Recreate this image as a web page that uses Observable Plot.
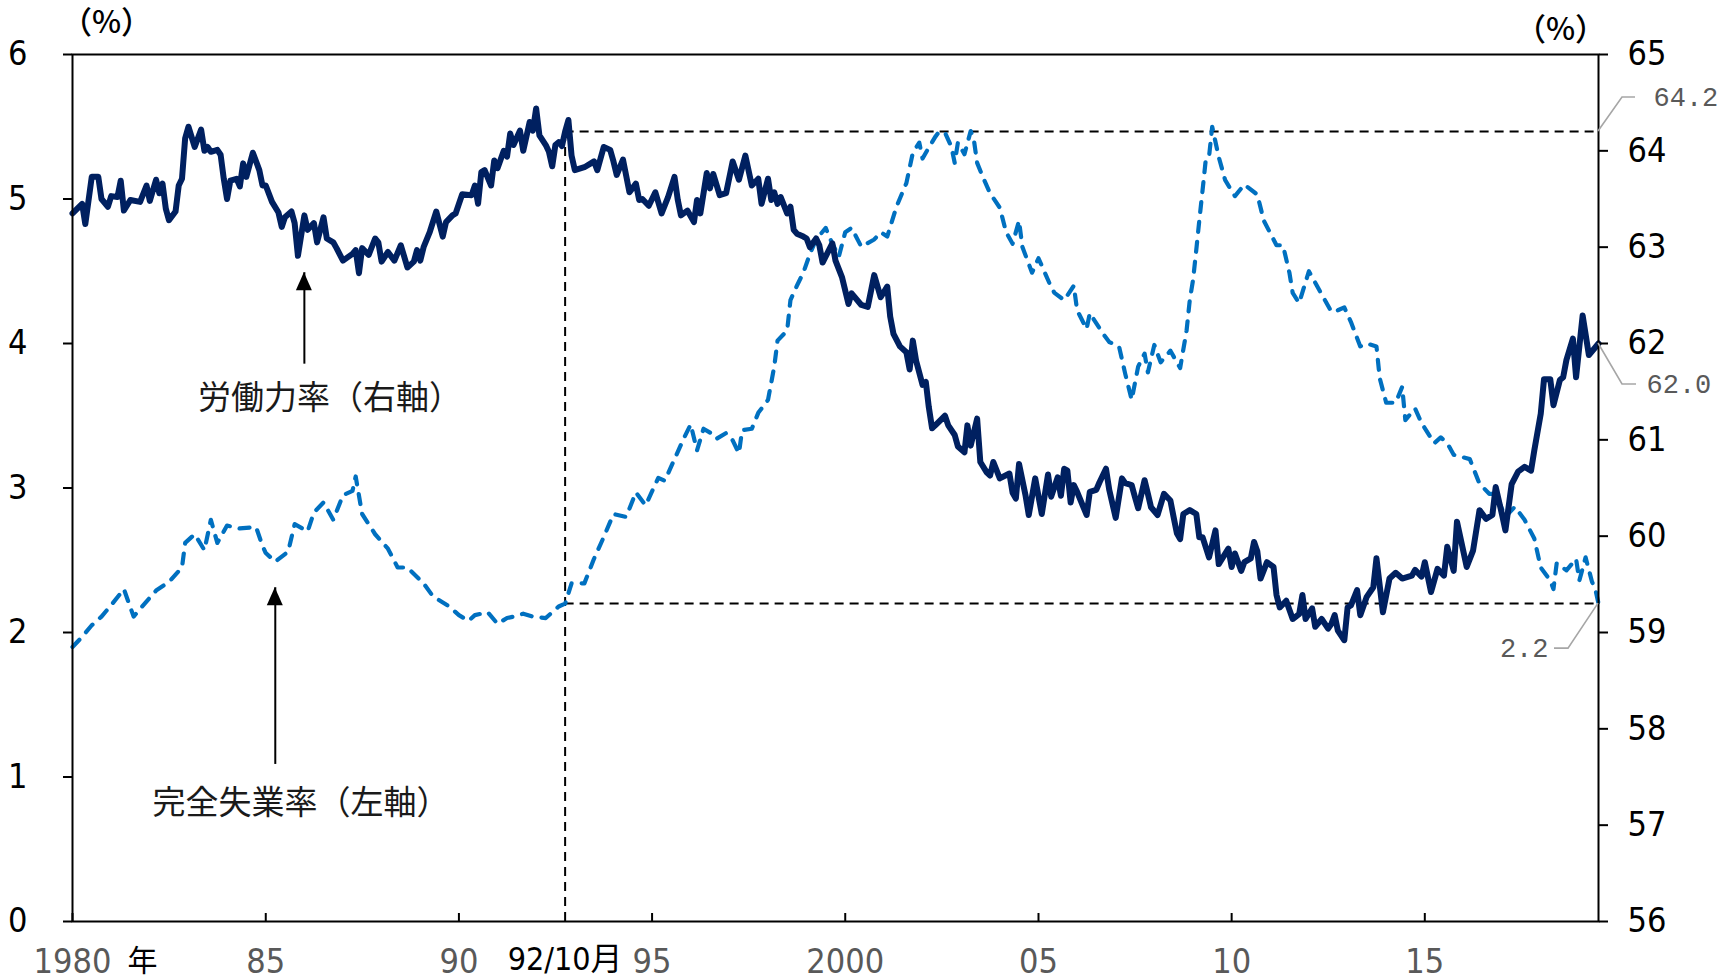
<!DOCTYPE html>
<html>
<head>
<meta charset="utf-8">
<script src="https://cdn.jsdelivr.net/npm/d3@7"></script>
<script src="https://cdn.jsdelivr.net/npm/@observablehq/plot@0.6"></script>
<style>
  html, body { margin: 0; padding: 0; background: #fff; }
</style>
</head>
<body>
<div id="chart"></div>
<script>
// ---------- data ----------
// 労働力率 (right axis, %)
const laborForceRate = [
["1980-01",63.35],["1980-04",63.45],["1980-05",63.24],["1980-07",63.73],["1980-09",63.73],["1980-10",63.50],["1980-12",63.42],
["1981-01",63.53],["1981-03",63.52],["1981-04",63.69],["1981-05",63.38],["1981-07",63.49],["1981-10",63.47],["1981-12",63.64],
["1982-01",63.48],["1982-03",63.70],["1982-04",63.56],["1982-05",63.66],["1982-06",63.40],["1982-07",63.28],["1982-09",63.37],["1982-10",63.64],["1982-11",63.71],["1982-12",64.13],
["1983-01",64.25],["1983-03",64.04],["1983-05",64.22],["1983-06",64.00],["1983-07",64.04],["1983-08",63.99],["1983-10",64.01],["1983-11",63.96],["1983-12",63.71],
["1984-01",63.50],["1984-02",63.69],["1984-04",63.71],["1984-05",63.63],["1984-06",63.87],["1984-07",63.73],["1984-09",63.98],["1984-11",63.80],["1984-12",63.64],
["1985-01",63.64],["1985-03",63.47],["1985-05",63.36],["1985-06",63.21],["1985-07",63.31],["1985-09",63.37],["1985-10",63.25],["1985-11",62.91],
["1986-01",63.33],["1986-02",63.18],["1986-04",63.25],["1986-05",63.05],["1986-07",63.31],["1986-08",63.09],["1986-10",63.05],["1986-11",62.99],
["1987-01",62.86],["1987-04",62.93],["1987-05",62.97],["1987-06",62.73],["1987-07",62.99],["1987-09",62.92],["1987-11",63.09],["1987-12",63.05],
["1988-01",62.85],["1988-03",62.95],["1988-05",62.86],["1988-07",63.02],["1988-09",62.79],["1988-11",62.85],["1988-12",62.97],
["1989-01",62.86],["1989-02",63.00],["1989-04",63.16],["1989-06",63.37],["1989-08",63.11],["1989-09",63.26],["1989-11",63.33],["1989-12",63.35],
["1990-02",63.55],["1990-05",63.54],["1990-06",63.64],["1990-07",63.45],["1990-08",63.78],["1990-09",63.80],["1990-11",63.64],["1990-12",63.90],
["1991-01",63.82],["1991-03",64.00],["1991-04",63.94],["1991-05",64.18],["1991-06",64.06],["1991-08",64.21],["1991-09",64.00],["1991-11",64.30],["1991-12",64.21],
["1992-01",64.44],["1992-02",64.16],["1992-04",64.06],["1992-05",63.99],["1992-06",63.84],["1992-07",64.06],["1992-08",64.09],["1992-09",64.05],["1992-10",64.20],["1992-11",64.32],["1992-12",63.95],
["1993-01",63.80],["1993-04",63.83],["1993-06",63.87],["1993-07",63.89],["1993-08",63.80],["1993-10",64.04],["1993-12",64.01],
["1994-01",63.89],["1994-02",63.75],["1994-04",63.91],["1994-06",63.57],["1994-08",63.66],["1994-09",63.49],["1994-10",63.50],["1994-12",63.43],
["1995-02",63.57],["1995-04",63.35],["1995-06",63.52],["1995-08",63.73],["1995-09",63.49],["1995-10",63.33],["1995-12",63.38],
["1996-02",63.26],["1996-03",63.49],["1996-04",63.35],["1996-06",63.77],["1996-07",63.61],["1996-08",63.76],["1996-10",63.54],["1996-12",63.56],
["1997-02",63.89],["1997-04",63.70],["1997-06",63.95],["1997-08",63.64],["1997-10",63.71],["1997-11",63.45],
["1998-01",63.71],["1998-02",63.49],["1998-03",63.57],["1998-04",63.45],["1998-05",63.52],["1998-07",63.35],["1998-08",63.42],["1998-09",63.18],["1998-10",63.14],["1998-12",63.11],
["1999-01",63.09],["1999-02",63.00],["1999-04",63.09],["1999-05",63.02],["1999-06",62.84],["1999-09",63.04],["1999-10",62.86],["1999-12",62.69],
["2000-02",62.41],["2000-03",62.52],["2000-06",62.40],["2000-08",62.38],["2000-10",62.71],["2000-12",62.48],
["2001-02",62.59],["2001-03",62.28],["2001-04",62.10],["2001-06",61.97],["2001-08",61.91],["2001-09",61.73],["2001-10",62.03],["2001-11",61.82],
["2002-01",61.57],["2002-02",61.60],["2002-03",61.34],["2002-04",61.12],["2002-05",61.15],["2002-08",61.25],["2002-09",61.15],["2002-11",61.05],["2002-12",60.93],
["2003-02",60.87],["2003-03",61.15],["2003-04",60.94],["2003-06",61.22],["2003-07",60.77],["2003-09",60.66],["2003-10",60.63],["2003-11",60.77],
["2004-01",60.60],["2004-04",60.65],["2004-05",60.45],["2004-06",60.39],["2004-07",60.75],["2004-09",60.42],["2004-10",60.22],["2004-12",60.60],
["2005-02",60.23],["2005-04",60.64],["2005-05",60.41],["2005-07",60.61],["2005-08",60.42],["2005-09",60.70],["2005-10",60.68],["2005-11",60.35],["2005-12",60.53],
["2006-01",60.46],["2006-04",60.22],["2006-05",60.46],["2006-07",60.48],["2006-08",60.56],["2006-10",60.70],["2006-11",60.48],
["2007-01",60.19],["2007-03",60.60],["2007-04",60.55],["2007-06",60.53],["2007-07",60.41],["2007-08",60.29],["2007-10",60.58],["2007-11",60.44],["2007-12",60.30],
["2008-02",60.22],["2008-04",60.44],["2008-06",60.37],["2008-07",60.20],["2008-08",60.03],["2008-09",59.97],["2008-10",60.23],["2008-12",60.27],
["2009-02",60.23],["2009-03",59.99],["2009-04",59.99],["2009-06",59.78],["2009-08",60.06],["2009-09",59.71],["2009-12",59.87],
["2010-01",59.68],["2010-02",59.82],["2010-04",59.64],["2010-05",59.73],["2010-07",59.77],["2010-08",59.94],["2010-09",59.84],["2010-10",59.56],["2010-12",59.73],
["2011-02",59.68],["2011-03",59.39],["2011-04",59.26],["2011-06",59.33],["2011-08",59.14],["2011-10",59.19],["2011-11",59.39],["2011-12",59.14],
["2012-02",59.25],["2012-03",59.06],["2012-05",59.14],["2012-07",59.04],["2012-08",59.09],["2012-09",59.18],["2012-10",59.02],["2012-12",58.92],
["2013-01",59.26],["2013-02",59.28],["2013-04",59.44],["2013-05",59.18],["2013-07",59.37],["2013-09",59.47],["2013-10",59.77],["2013-12",59.21],
["2014-02",59.56],["2014-04",59.62],["2014-06",59.56],["2014-08",59.58],["2014-09",59.59],["2014-10",59.65],["2014-12",59.58],
["2015-01",59.73],["2015-03",59.42],["2015-05",59.66],["2015-07",59.59],["2015-08",59.89],["2015-10",59.64],["2015-11",60.15],
["2016-02",59.68],["2016-04",59.85],["2016-06",60.27],["2016-08",60.18],["2016-10",60.22],["2016-11",60.51],
["2017-01",60.22],["2017-02",60.06],["2017-04",60.54],["2017-06",60.67],["2017-08",60.72],["2017-10",60.68],["2017-11",60.89],
["2018-01",61.27],["2018-02",61.63],["2018-04",61.63],["2018-05",61.36],["2018-07",61.62],["2018-08",61.65],["2018-09",61.83],["2018-11",62.05],["2018-12",61.65],
["2019-02",62.29],["2019-04",61.88],["2019-07",62.00]
];

// 完全失業率 (left axis, %)
const unemploymentRate = [
["1980-01",1.90],["1980-04",1.97],["1980-07",2.05],["1980-10",2.11],
["1981-01",2.19],["1981-05",2.30],["1981-08",2.11],["1981-11",2.19],
["1982-03",2.29],["1982-07",2.35],["1982-11",2.45],["1982-12",2.62],
["1983-03",2.68],["1983-06",2.57],["1983-08",2.78],["1983-10",2.62],
["1984-01",2.74],["1984-05",2.72],["1984-10",2.73],["1984-12",2.60],
["1985-01",2.55],["1985-04",2.49],["1985-08",2.56],["1985-10",2.75],
["1986-02",2.70],["1986-04",2.83],["1986-07",2.90],["1986-10",2.78],
["1987-01",2.95],["1987-04",2.98],["1987-05",3.08],["1987-07",2.82],["1987-11",2.68],
["1988-03",2.58],["1988-06",2.45],["1988-09",2.45],
["1989-02",2.34],["1989-05",2.25],["1989-10",2.18],
["1990-01",2.12],["1990-04",2.08],["1990-06",2.12],["1990-10",2.14],
["1991-01",2.06],["1991-04",2.10],["1991-06",2.11],["1991-09",2.13],["1991-12",2.11],
["1992-04",2.10],["1992-08",2.18],["1992-10",2.20],["1992-12",2.34],
["1993-04",2.34],["1993-07",2.51],["1993-10",2.66],
["1994-01",2.82],["1994-05",2.80],["1994-08",2.97],["1994-11",2.88],
["1995-03",3.07],["1995-05",3.05],["1995-08",3.20],["1995-11",3.35],
["1996-01",3.44],["1996-03",3.26],["1996-05",3.41],["1996-08",3.37],["1996-09",3.34],["1996-12",3.38],
["1997-02",3.33],["1997-04",3.24],["1997-05",3.40],["1997-08",3.41],["1997-10",3.52],
["1998-01",3.61],["1998-03",3.84],["1998-04",4.02],["1998-07",4.09],["1998-08",4.30],["1998-10",4.40],["1998-12",4.49],
["1999-02",4.62],["1999-04",4.72],["1999-07",4.80],["1999-08",4.74],["1999-11",4.60],
["2000-01",4.77],["2000-03",4.80],["2000-06",4.67],["2000-10",4.72],["2000-12",4.77],
["2001-02",4.74],["2001-05",4.95],["2001-08",5.11],["2001-10",5.32],["2001-12",5.39],
["2002-01",5.28],["2002-02",5.32],["2002-05",5.43],["2002-06",5.46],["2002-08",5.46],["2002-10",5.36],["2002-11",5.25],["2002-12",5.39],
["2003-02",5.31],["2003-04",5.47],["2003-05",5.41],["2003-06",5.25],["2003-08",5.14],["2003-10",5.04],
["2004-01",4.94],["2004-03",4.77],["2004-05",4.69],["2004-07",4.85],["2004-08",4.67],["2004-11",4.49],
["2005-01",4.59],["2005-05",4.39],["2005-06",4.35],["2005-09",4.30],["2005-12",4.40],
["2006-01",4.23],["2006-04",4.10],["2006-05",4.21],["2006-09",4.07],["2006-11",4.01],
["2007-02",3.98],["2007-04",3.79],["2007-06",3.61],["2007-08",3.84],["2007-10",3.93],["2007-11",3.80],
["2008-01",3.99],["2008-03",3.87],["2008-06",3.95],["2008-09",3.83],["2008-11",4.09],["2008-12",4.30],
["2009-01",4.44],["2009-02",4.65],["2009-03",4.85],["2009-04",5.06],["2009-05",5.27],["2009-06",5.29],["2009-07",5.50],["2009-09",5.29],["2009-11",5.13],
["2010-02",5.02],["2010-05",5.10],["2010-09",5.03],["2010-11",4.85],
["2011-03",4.68],["2011-05",4.68],["2011-07",4.49],["2011-08",4.35],["2011-10",4.28],
["2012-01",4.50],["2012-05",4.34],["2012-08",4.22],["2012-10",4.23],["2012-12",4.25],
["2013-02",4.15],["2013-05",3.98],["2013-07",4.00],["2013-10",3.98],["2013-11",3.76],
["2014-01",3.59],["2014-04",3.59],["2014-06",3.70],["2014-07",3.47],["2014-10",3.55],["2014-12",3.45],
["2015-04",3.31],["2015-06",3.35],["2015-08",3.31],["2015-10",3.23],
["2016-03",3.20],["2016-06",3.03],["2016-09",2.96],["2016-11",2.96],
["2017-02",2.80],["2017-05",2.87],["2017-08",2.78],["2017-11",2.65],
["2018-01",2.45],["2018-04",2.36],["2018-05",2.30],["2018-06",2.48],["2018-09",2.43],["2018-12",2.51],
["2019-01",2.36],["2019-03",2.52],["2019-05",2.35],["2019-06",2.30],["2019-07",2.20]
];

const xDomain = ["1980-01", "2019-07"];
const xTicks = ["1980-01","1985-01","1990-01","1995-01","2000-01","2005-01","2010-01","2015-01"];
const xTickLabels = ["1980","85","90","95","2000","05","10","15"];
const leftTicks = [0,1,2,3,4,5,6];
const rightTicks = [56,57,58,59,60,61,62,63,64,65];

// reference point (92/10) and latest values
const refMonth = "1992-10";
const refLabel = "92/10月";
const refLabor = 64.2;
const refUnemp = 2.2;
const lastLabor = 62.0;
const lastUnemp = 2.2;

// annotations
const arrowNotes = [
  {text: "労働力率（右軸）", arrowMonth: "1986-01", tip: 4.49, base: 3.94, labelMonth: "1986-09", labelY: 3.62},
  {text: "完全失業率（左軸）", arrowMonth: "1985-04", tip: 2.31, base: 1.17, labelMonth: "1985-12", labelY: 0.82}
];

// ---------- helpers ----------
const parse = d3.utcParse("%Y-%m");
// right axis (56–65) mapped onto the left axis (0–6)
const toLeft = v => (v - 56) / 1.5;
const NUM = "'Liberation Sans Narrow','Arial Narrow','DejaVu Sans Condensed',sans-serif";
const JP = "'Noto Sans CJK JP','Noto Sans CJK SC',sans-serif";
const MONO = "'Liberation Mono','DejaVu Sans Mono',monospace";
const labelMap = new Map(xTicks.map((t, i) => [+parse(t), xTickLabels[i]]));

const W = 1728, H = 980, mL = 72, mR = 130, mT = 54, mB = 59;
const innerH = H - mT - mB;

const chart = Plot.plot({
  width: W, height: H,
  marginLeft: mL, marginRight: mR, marginTop: mT, marginBottom: mB,
  style: {fontFamily: NUM, fontSize: "34px", color: "black", background: "white", overflow: "visible"},
  x: {type: "utc", domain: xDomain.map(parse)},
  y: {domain: [0, 6]},
  marks: [
    // reference dashed lines
    Plot.ruleX([parse(refMonth)], {y1: 0, y2: toLeft(refLabor), stroke: "black", strokeWidth: 2, strokeDasharray: "9,6"}),
    Plot.ruleY([toLeft(refLabor)], {x1: parse(refMonth), x2: parse(xDomain[1]), stroke: "black", strokeWidth: 2, strokeDasharray: "9,6"}),
    Plot.ruleY([refUnemp], {x1: parse(refMonth), x2: parse(xDomain[1]), stroke: "black", strokeWidth: 2, strokeDasharray: "9,6"}),
    // series
    Plot.line(unemploymentRate, {x: d => parse(d[0]), y: d => d[1], stroke: "#0070C0", strokeWidth: 4.2,
      strokeDasharray: "10,10", strokeLinecap: "round", strokeLinejoin: "round"}),
    Plot.line(laborForceRate, {x: d => parse(d[0]), y: d => toLeft(d[1]), stroke: "#002060", strokeWidth: 6,
      strokeLinejoin: "round", strokeLinecap: "round"}),
    // frame + axes
    Plot.frame({stroke: "black", strokeWidth: 2}),
    Plot.axisY(leftTicks, {anchor: "left", tickSize: 9, tickPadding: 36, label: null, strokeWidth: 2,
      tickFormat: d => String(d)}),
    Plot.axisY(rightTicks.map(toLeft), {anchor: "right", tickSize: 9, tickPadding: 20, label: null, strokeWidth: 2,
      tickFormat: d => String(Math.round(d * 1.5 + 56))}),
    Plot.axisX(xTicks.map(parse), {anchor: "bottom", tickSize: 0, tickPadding: 27, label: null, fill: "#595959",
      tickFormat: d => labelMap.get(+d)}),
    Plot.ruleX(xTicks.map(parse), {stroke: "black", strokeWidth: 2, insetTop: innerH - 8}),
    // bottom extra labels
    Plot.text(["年"], {x: parse(xTicks[0]), frameAnchor: "bottom", lineAnchor: "middle", dx: 70, dy: 40,
      fontFamily: JP, fontSize: 30, fill: "black"}),
    Plot.text([refLabel], {x: parse(refMonth), frameAnchor: "bottom", lineAnchor: "middle", dy: 38, fontSize: 32, fill: "black",
      fontFamily: "'Liberation Sans Narrow','Arial Narrow','DejaVu Sans Condensed','Noto Sans CJK JP',sans-serif"}),
    // unit labels
    Plot.text(["（%）"], {frameAnchor: "top-left", textAnchor: "middle", lineAnchor: "middle", dx: 34, dy: -31,
      fontFamily: JP, fontSize: 31, fontWeight: 500, fill: "black"}),
    Plot.text(["（%）"], {frameAnchor: "top-right", textAnchor: "middle", lineAnchor: "middle", dx: -38, dy: -24,
      fontFamily: JP, fontSize: 31, fontWeight: 500, fill: "black"}),
    // series labels
    Plot.text(arrowNotes, {x: d => parse(d.labelMonth), y: "labelY", text: "text", fontFamily: JP, fontSize: 33, fill: "#1a1a1a"}),
    Plot.ruleX(arrowNotes, {x: d => parse(d.arrowMonth), y1: "base", y2: "tip", stroke: "black", strokeWidth: 2, insetTop: 12}),
    // callout values
    Plot.text([String(refLabor.toFixed(1))], {frameAnchor: "right", y: toLeft(refLabor), dx: 55, dy: -34, textAnchor: "start",
      fontFamily: MONO, fontSize: 27, fill: "#595959"}),
    Plot.text([String(lastLabor.toFixed(1))], {frameAnchor: "right", y: toLeft(lastLabor), dx: 48, dy: 41, textAnchor: "start",
      fontFamily: MONO, fontSize: 27, fill: "#595959"}),
    Plot.text([String(lastUnemp.toFixed(1))], {frameAnchor: "right", y: lastUnemp, dx: -50, dy: 45, textAnchor: "end",
      fontFamily: MONO, fontSize: 27, fill: "#595959"})
  ]
});

document.getElementById("chart").appendChild(chart);

// leader lines and arrow heads positioned through the plot's scales
const sx = chart.scale("x"), sy = chart.scale("y");
const svg = d3.select(chart);
const g = svg.append("g");
const xr = sx.apply(parse(xDomain[1]));
const leaders = [
  {y: sy.apply(toLeft(refLabor)), pts: [[0, 0], [24, -34], [37, -34]]},
  {y: sy.apply(toLeft(lastLabor)), pts: [[0, 0], [24, 41], [38, 41]]},
  {y: sy.apply(lastUnemp), pts: [[0, 0], [-30, 45], [-44, 45]]}
];
for (const l of leaders) {
  g.append("path")
    .attr("d", d3.line()(l.pts.map(([dx, dy]) => [xr + dx, l.y + dy])))
    .attr("fill", "none").attr("stroke", "#a6a6a6").attr("stroke-width", 1.6);
}
for (const a of arrowNotes) {
  const x = sx.apply(parse(a.arrowMonth)), y = sy.apply(a.tip);
  g.append("path").attr("d", `M${x},${y}L${x - 8},${y + 18}L${x + 8},${y + 18}Z`).attr("fill", "black");
}
</script>
</body>
</html>
